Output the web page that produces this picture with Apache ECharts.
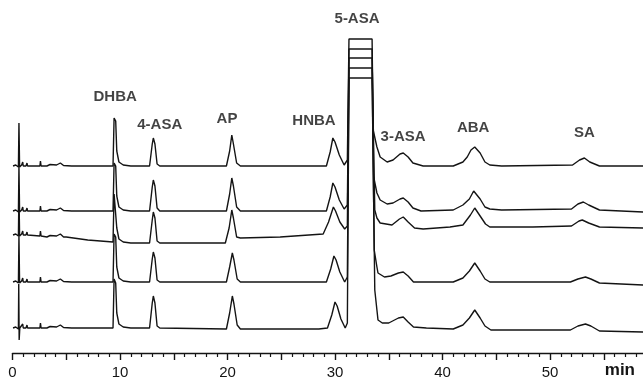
<!DOCTYPE html>
<html style="height: 100%">

<head>
    <meta charset="utf-8">
    <title>HPLC chromatogram</title>
    <script type="text/javascript" src="https://cdn.jsdelivr.net/npm/echarts@6/dist/echarts.min.js"></script>
</head>

<body style="height: 100%; margin: 0; background: #fff">
    <div id="container" style="width: 643px; height: 382px"></div>

    <script type="text/javascript">
        // retention time (min), signal above each trace's own baseline
        var trace1 = [[0.05, 0], [0.3, 1], [0.42, 0], [0.55, -1], [0.6, 43], [0.66, -1], [0.85, 1], [0.95, 4], [1.0, 0], [1.25, 0], [1.35, 3], [1.4, 0], [1.8, 0], [2.55, 0], [2.6, 5], [2.66, 0], [3.2, 0], [3.5, 1.5], [4.1, 1], [4.45, 3], [4.75, 0.5], [5.5, 0],
            [9.35, 0], [9.45, 48], [9.6, 45], [9.7, 15], [9.9, 4], [10.3, 1], [11, 0], [12.75, 0], [13.0, 22], [13.1, 28], [13.25, 22], [13.45, 2], [13.7, 0],
            [19.9, 0], [20.2, 15], [20.4, 31], [20.55, 22], [20.85, 3], [21.2, 0], [29.2, 0], [29.55, 14], [29.8, 28], [30.0, 24], [30.4, 11], [30.85, 1], [31.15, 6],
            [31.3, 127], [33.45, 127], [33.55, 36], [33.9, 19], [34.2, 9], [34.85, 4], [35.4, 6], [36.05, 12], [36.35, 13], [36.8, 9], [37.25, 3], [38.2, 0],
            [41.0, 0], [41.9, 4], [42.3, 9], [42.65, 16], [43.0, 19], [43.5, 13], [43.95, 4], [44.4, 1], [45.5, 0], [52.1, 1], [52.75, 6], [53.2, 8], [53.7, 4], [54.6, 0], [58.7, 0]];

        var trace2 = [[0.05, 0], [0.3, 1], [0.42, 0], [0.55, -1], [0.6, 45], [0.66, -1], [0.85, 1], [0.95, 4], [1.0, 0], [1.25, 0], [1.35, 3], [1.4, 0], [2.55, 0], [2.6, 5], [2.66, 0], [3.2, 0], [3.5, 1.5], [4.1, 1], [4.45, 3], [4.75, 0.5], [5.5, 0],
            [9.35, 0], [9.45, 48], [9.6, 45], [9.7, 15], [9.9, 4], [10.3, 1], [11, 0], [12.75, 0], [13.0, 24], [13.1, 31], [13.25, 25], [13.45, 3], [13.7, 0],
            [19.9, 0], [20.2, 17], [20.4, 33], [20.55, 25], [20.85, 4], [21.2, 0], [29.2, 0], [29.55, 14], [29.8, 28], [30.0, 24], [30.4, 11], [30.85, 2], [31.15, 6],
            [31.3, 162], [33.45, 162], [33.6, 34], [33.9, 18], [34.2, 11], [34.85, 7], [35.4, 8], [36.05, 12], [36.35, 13], [36.8, 9], [37.25, 3], [38.0, 0],
            [41.0, 1], [41.9, 6], [42.5, 12], [42.9, 20], [43.5, 12], [43.95, 4], [44.4, 2], [45.5, 1], [52.0, 2], [52.6, 7], [53.1, 9], [53.6, 6], [54.6, 1], [58.7, -1]];

        var trace3 = [[0.05, 1], [0.3, 2], [0.42, 1], [0.55, 0], [0.6, 44], [0.66, 0], [0.85, 2], [0.95, 5], [1.0, 1], [1.25, 1], [1.35, 4], [1.4, 1], [2.55, 0], [2.6, 5], [2.66, 0], [3.2, -1], [3.5, 0.5], [4.1, 0], [4.45, 2], [4.75, -1], [5.0, -1], [7.0, -4],
            [9.35, -6], [9.45, 42], [9.6, 40], [9.7, 8], [9.9, -3], [10.3, -6], [11, -7], [12.75, -7], [13.0, 16], [13.1, 24], [13.25, 18], [13.45, -5], [13.7, -7],
            [19.8, -7], [20.15, 8], [20.4, 26], [20.55, 18], [20.85, -1], [21.2, -2], [24.9, -1], [28.9, 2], [29.4, 14], [29.85, 29], [30.05, 25], [30.45, 14], [30.9, 7], [31.15, 10],
            [31.3, 178], [33.45, 178], [33.7, 26], [33.9, 18], [34.2, 13], [35.3, 11], [36.0, 17], [36.35, 19], [36.8, 14], [37.4, 8], [38.2, 7],
            [40.7, 9], [41.9, 11], [42.6, 21], [43.0, 28], [43.5, 20], [44.0, 12], [44.4, 9], [48.4, 9], [52.0, 10], [52.7, 15], [53.0, 16], [53.6, 13], [54.6, 9], [58.7, 8]];

        var trace4 = [[0.05, 0], [0.3, 1], [0.42, 0], [0.55, -1], [0.6, 46], [0.66, -1], [0.85, 1], [0.95, 4], [1.0, 0], [1.25, 0], [1.35, 3], [1.4, 0], [2.55, 0], [2.6, 5], [2.66, 0], [3.2, 0], [3.5, 1.5], [4.1, 1], [4.45, 3], [4.75, 0.5], [5.5, 0],
            [9.35, 0], [9.45, 48], [9.6, 45], [9.7, 15], [9.9, 4], [10.3, 1], [11, 0], [12.75, 0], [13.0, 23], [13.1, 30], [13.25, 24], [13.45, 2], [13.7, 0],
            [19.9, 0], [20.2, 15], [20.45, 29], [20.6, 22], [20.9, 3], [21.2, 0], [29.2, 0], [29.6, 13], [29.9, 26], [30.1, 22], [30.45, 10], [30.9, 0], [31.15, 5],
            [31.3, 214], [33.45, 214], [33.65, 32], [33.9, 15], [34.0, 9], [34.6, 5], [35.2, 6], [35.9, 9], [36.35, 10], [36.8, 6], [37.3, 0],
            [41.0, 0], [41.9, 4], [42.5, 11], [43.0, 19], [43.5, 11], [43.95, 3], [44.4, 0], [51.9, 0], [52.6, 3], [53.3, 5], [53.8, 3], [54.6, -1], [58.7, -3]];

        var trace5 = [[0.05, 0], [0.3, 1], [0.42, 0], [0.55, -1], [0.58, 44], [0.62, -12], [0.68, 0], [0.85, 1], [0.95, 4], [1.0, 0], [1.25, 0], [1.35, 3], [1.4, 0], [2.55, 0], [2.6, 5], [2.66, 0], [3.2, 0], [3.5, 1.5], [4.1, 1], [4.45, 3], [4.75, 0.5], [5.5, 0],
            [9.35, 0], [9.45, 49], [9.6, 45], [9.7, 15], [9.9, 4], [10.3, 1], [11, 0], [12.75, 0], [13.0, 25], [13.1, 32], [13.25, 25], [13.45, 2], [13.7, 0],
            [19.9, -1], [20.2, 15], [20.45, 32], [20.6, 24], [20.9, 3], [21.2, -1], [28.5, -1], [29.3, 0], [29.7, 13], [30.0, 26], [30.2, 22], [30.55, 9], [30.95, 0], [31.15, 5],
            [31.3, 250], [33.45, 250], [33.7, 38], [33.9, 18], [34.0, 8], [34.4, 5], [35.0, 5], [35.9, 10], [36.35, 11], [36.8, 6], [37.3, 1], [38.5, 0],
            [41.0, -1], [41.9, 3], [42.5, 10], [43.0, 18], [43.5, 10], [43.95, 2], [44.5, -2], [51.9, -2], [52.6, 2], [53.3, 4], [53.8, 2], [54.6, -3], [58.7, -4]];

        // vertical offset of each trace in the stack
        var offsets = [187, 142, 117, 71, 25];

        // peak names and where their labels sit
        var peakNames = ['DHBA', '4-ASA', 'AP', 'HNBA', '5-ASA', '3-ASA', 'ABA', 'SA'];
        var peakLabelTime = [9.55, 13.7, 19.95, 28.05, 32.05, 36.33, 42.85, 53.2];
        var peakLabelY = [256, 228, 234, 232, 334, 216, 225, 220];

        var tickLabels = [0, 10, 20, 30, 40, 50];

        var traces = [trace1, trace2, trace3, trace4, trace5];

        var dom = document.getElementById("container");
        var myChart = echarts.init(dom);

        var series = traces.map(function (tr, i) {
            return {
                type: 'line',
                symbol: 'none',
                silent: true,
                lineStyle: { color: '#141414', width: 1.4 },
                data: tr.map(function (p) { return [p[0], p[1] + offsets[i]]; })
            };
        });

        series.push({
            type: 'scatter',
            symbolSize: 0,
            silent: true,
            label: {
                show: true,
                position: 'inside',
                formatter: '{b}',
                fontFamily: 'Liberation Sans',
                fontWeight: 'bold',
                fontSize: 15,
                color: '#141414'
            },
            data: peakNames.map(function (n, i) {
                return { name: n, value: [peakLabelTime[i], peakLabelY[i]] };
            })
        });

        var option = {
            animation: false,
            backgroundColor: '#ffffff',
            grid: {
                left: 12.5,
                right: -14.5,
                top: 3,
                bottom: 29,
                outerBoundsMode: 'none'
            },
            xAxis: {
                type: 'value',
                min: 0,
                max: 60,
                interval: 5,
                axisLine: { lineStyle: { color: '#141414', width: 1.4 } },
                axisTick: { length: 7, lineStyle: { color: '#141414', width: 1.4 } },
                minorTick: { show: true, splitNumber: 5, length: 4, lineStyle: { color: '#141414', width: 1.2 } },
                splitLine: { show: false },
                axisLabel: {
                    color: '#141414',
                    fontFamily: 'Liberation Sans',
                    fontSize: 15,
                    margin: 12,
                    formatter: function (v) {
                        return tickLabels.indexOf(v) >= 0 ? String(v) : '';
                    }
                }
            },
            yAxis: {
                type: 'value',
                min: 0,
                max: 350,
                show: false
            },
            graphic: [{
                type: 'text',
                right: 8,
                top: 362,
                style: {
                    text: 'min',
                    font: 'bold 17px "Liberation Sans"',
                    fill: '#141414'
                }
            }],
            series: series
        };

        myChart.setOption(option, true);
    </script>
</body>

</html>
